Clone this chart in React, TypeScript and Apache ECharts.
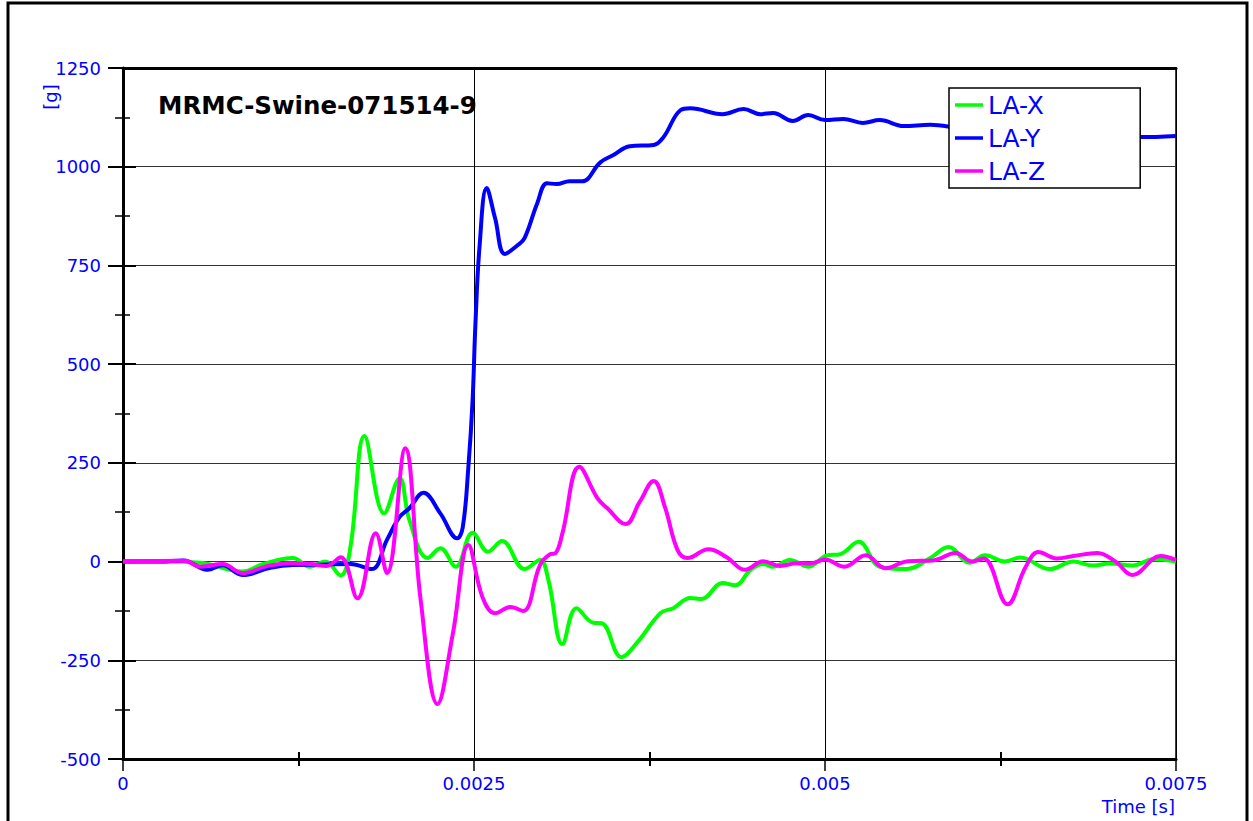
import React, { useEffect, useRef } from "react";
import * as echarts from "echarts";

// time in milliseconds, values in g
const tX = [0, 0.3, 0.55, 0.85, 1.0, 1.21, 1.33, 1.44, 1.55, 1.62, 1.72, 1.86, 1.97, 2.04, 2.17, 2.26, 2.37, 2.49, 2.6, 2.7, 2.86, 2.97, 3.03, 3.13, 3.23, 3.35, 3.41, 3.55, 3.66, 3.83, 3.92, 4.04, 4.12, 4.27, 4.36, 4.47, 4.56, 4.63, 4.75, 4.88, 5.01, 5.11, 5.24, 5.39, 5.58, 5.75, 5.88, 6.03, 6.14, 6.28, 6.39, 6.6, 6.77, 6.91, 7.03, 7.19, 7.34, 7.5];
const vX = [0, 0, -3, -25, -6, 9, -13, 0, -35, 37, 318, 122, 211, 105, 9, 34, -13, 73, 25, 52, -19, 4, -47, -209, -118, -155, -156, -242, -206, -130, -118, -92, -95, -54, -60, -21, -6, -13, 4, -13, 15, 19, 50, -13, -19, 9, 37, -3, 16, 0, 10, -19, 0, -10, -5, -10, 6, 0];

const tY = [0, 0.26, 0.43, 0.6, 0.71, 0.85, 1.05, 1.21, 1.4, 1.62, 1.77, 1.88, 1.97, 2.04, 2.14, 2.26, 2.38, 2.42, 2.46, 2.49, 2.51, 2.54, 2.59, 2.65, 2.72, 2.81, 2.86, 2.95, 3.02, 3.09, 3.18, 3.27, 3.4, 3.49, 3.61, 3.78, 3.85, 3.97, 4.04, 4.27, 4.42, 4.54, 4.63, 4.77, 4.88, 5.0, 5.13, 5.27, 5.39, 5.56, 5.75, 5.96, 6.25, 6.6, 6.96, 7.24, 7.5];
const vY = [0, 0, 3, -21, -9, -34, -16, -9, -8, -6, -19, 55, 113, 135, 174, 122, 59, 87, 240, 409, 600, 800, 946, 870, 779, 801, 819, 907, 958, 956, 963, 963, 1011, 1029, 1052, 1055, 1075, 1143, 1148, 1133, 1146, 1133, 1136, 1116, 1131, 1118, 1121, 1111, 1118, 1103, 1106, 1098, 1090, 1085, 1080, 1075, 1078];

const tZ = [0, 0.44, 0.55, 0.71, 0.85, 1.03, 1.19, 1.33, 1.45, 1.55, 1.67, 1.8, 1.88, 2.01, 2.12, 2.24, 2.35, 2.46, 2.56, 2.65, 2.76, 2.85, 2.97, 3.04, 3.08, 3.13, 3.25, 3.38, 3.45, 3.58, 3.68, 3.78, 3.86, 3.95, 4.02, 4.17, 4.3, 4.43, 4.56, 4.68, 4.8, 4.89, 5.0, 5.14, 5.29, 5.43, 5.59, 5.77, 5.93, 6.05, 6.13, 6.3, 6.43, 6.52, 6.65, 6.77, 6.94, 7.07, 7.19, 7.39, 7.5];
const vZ = [0, 2, -13, -6, -29, -11, -4, -6, -11, 11, -93, 72, -29, 287, -97, -361, -181, 42, -90, -131, -115, -125, -9, 18, 21, 72, 240, 160, 135, 95, 151, 204, 138, 29, 9, 31, 11, -21, 1, -11, -4, -5, 5, -13, 16, -17, 1, 3, 22, 0, 8, -108, -13, 24, 8, 14, 22, 0, -34, 14, 4];

const seriesNames = ["LA-X", "LA-Y", "LA-Z"];
const seriesColors = ["#00ff00", "#0000ff", "#ff00ff"];
const chartTitle = "MRMC-Swine-071514-9";
const yUnit = "[g]";
const xUnit = "Time [s]";

const FONT = "DejaVu Sans";
const BLUE = "#0000ff";

export default function App() {
  const ref = useRef<HTMLDivElement>(null);
  useEffect(() => {
    if (!ref.current) return;
    const chart = echarts.init(ref.current, undefined, { renderer: "svg" });
    const toData = (ts: number[], vs: number[]) => ts.map((t, i) => [t / 1000, vs[i]]);
    const datasets = [toData(tX, vX), toData(tY, vY), toData(tZ, vZ)];
    const xBase = { type: "value", min: 0, max: 0.0075, interval: 0.0025 };
    const yBase = { type: "value", min: -500, max: 1250, interval: 250 };
    chart.setOption({
      animation: false,
      backgroundColor: "#fff",
      title: {
        text: chartTitle,
        left: 158,
        top: 93,
        padding: 0,
        textStyle: { fontFamily: FONT, fontSize: 24.5, fontWeight: "bold", color: "#000" },
      },
      legend: {
        orient: "vertical",
        left: 949,
        top: 88,
        z: 10,
        data: seriesNames,
        icon: "rect",
        itemWidth: 28,
        itemHeight: 3.5,
        itemGap: 7,
        padding: [4, 95, 4, 6],
        backgroundColor: "#fff",
        borderColor: "#000",
        borderWidth: 1.5,
        borderRadius: 0,
        textStyle: { fontFamily: FONT, fontSize: 25, color: BLUE, lineHeight: 26, padding: [0, 0, 0, 0] },
      },
      grid: {
        left: 123,
        top: 68,
        right: 77,
        bottom: 62,
        show: true,
        borderColor: "#000",
        borderWidth: 1.5,
      },
      xAxis: [
        {
          ...xBase,
          position: "bottom",
          axisLine: { show: true, onZero: false, lineStyle: { color: "#000", width: 3 } },
          axisTick: { show: true, length: 12, lineStyle: { color: "#000", width: 1.5 } },
          minorTick: { show: true, splitNumber: 2, length: 7, lineStyle: { color: "#000", width: 2 } },
          axisLabel: { color: BLUE, fontFamily: FONT, fontSize: 18, margin: 15 },
          splitLine: { show: true, lineStyle: { color: "#000", width: 1 } },
        },
        {
          ...xBase,
          position: "bottom",
          axisLine: { show: false, onZero: false },
          axisTick: { show: true, inside: true, length: 0, lineStyle: { width: 0 } },
          minorTick: { show: true, splitNumber: 2, length: 7, lineStyle: { color: "#000", width: 2 } },
          axisLabel: { show: false },
          splitLine: { show: false },
        },
        {
          ...xBase,
          position: "top",
          axisLine: { show: true, onZero: false, lineStyle: { color: "#000", width: 3 } },
          axisTick: { show: false },
          axisLabel: { show: false },
          splitLine: { show: false },
        },
      ],
      yAxis: [
        {
          ...yBase,
          position: "left",
          axisLine: { show: true, onZero: false, lineStyle: { color: "#000", width: 3 } },
          axisTick: { show: true, length: 15, lineStyle: { color: "#000", width: 2 } },
          minorTick: { show: true, splitNumber: 2, length: 8, lineStyle: { color: "#000", width: 1.5 } },
          axisLabel: { color: BLUE, fontFamily: FONT, fontSize: 18, margin: 22, formatter: (v: number) => String(v) },
          splitLine: { show: true, lineStyle: { color: "#333", width: 1 } },
        },
        {
          ...yBase,
          position: "left",
          axisLine: { show: false, onZero: false },
          axisTick: { show: true, inside: true, length: 13, lineStyle: { color: "#000", width: 2 } },
          minorTick: { show: true, splitNumber: 2, length: 7, lineStyle: { color: "#000", width: 1.5 } },
          axisLabel: { show: false },
          splitLine: { show: false },
        },
      ],
      series: seriesNames.map((name, i) => ({
        name,
        type: "line",
        xAxisIndex: 0,
        yAxisIndex: 0,
        data: datasets[i],
        symbol: "none",
        smooth: 0.4,
        color: seriesColors[i],
        itemStyle: { color: seriesColors[i] },
        lineStyle: { color: seriesColors[i], width: 4 },
        z: 2,
      })),
      graphic: [
        {
          type: "rect",
          shape: { x: 8, y: 3, width: 1239, height: 840 },
          style: { fill: "none", stroke: "#000", lineWidth: 3 },
          silent: true,
        },
        {
          type: "text",
          x: 1175,
          y: 806,
          style: { text: xUnit, fill: BLUE, font: `18px '${FONT}'`, align: "right", verticalAlign: "middle" },
        },
        {
          type: "text",
          x: 50,
          y: 97,
          rotation: Math.PI / 2,
          style: { text: yUnit, fill: BLUE, font: `18px '${FONT}'`, align: "center", verticalAlign: "middle" },
        },
      ],
    });
    return () => chart.dispose();
  }, []);
  return (
    <div
      ref={ref}
      style={{ position: "fixed", left: 0, top: 0, width: 1253, height: 821, background: "#fff" }}
    />
  );
}
